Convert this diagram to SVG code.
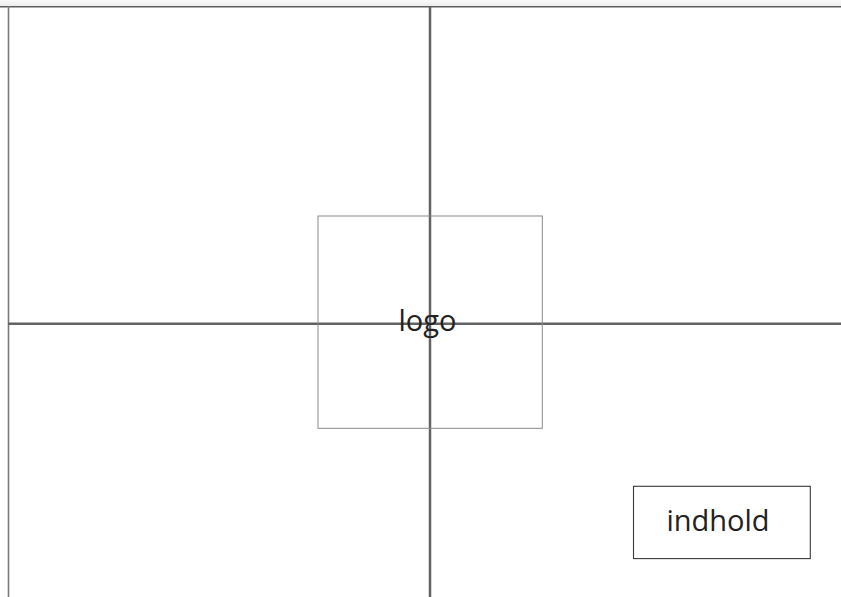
<svg xmlns="http://www.w3.org/2000/svg" width="841" height="597" viewBox="0 0 841 597">
<style>
.label{font-family:"Open Sans","Noto Sans","Liberation Sans",sans-serif;font-size:29px;fill:#222;text-anchor:middle}
.axis{stroke:#636363;stroke-width:2.5;fill:none}
</style>
<defs>
<linearGradient id="topbar" x1="0" y1="0" x2="0" y2="1">
<stop offset="0" stop-color="#fafafa"/>
<stop offset="1" stop-color="#ececec"/>
</linearGradient>
</defs>
<rect x="0" y="0" width="841" height="597" fill="#ffffff"/>
<rect x="0" y="0" width="841" height="6.3" fill="url(#topbar)"/>
<g id="frame">
<line x1="0" y1="6.8" x2="841" y2="6.8" stroke="#5e5e5e" stroke-width="1.5"/>
<line x1="8.5" y1="6" x2="8.5" y2="597" stroke="#7a7a7a" stroke-width="1.6"/>
</g>
<g id="connectors">
<line class="axis" x1="430" y1="7" x2="430" y2="597"/>
<line class="axis" x1="8" y1="323.8" x2="841" y2="323.8"/>
</g>
<g id="logo">
<rect x="318" y="216" width="224.3" height="212.3" fill="none" stroke="#8a8a8a" stroke-width="1"/>
<text class="label" x="427.5" y="330.5">logo</text>
</g>
<g id="indhold">
<rect x="633.5" y="486.3" width="176.8" height="72.3" fill="none" stroke="#3a3a3a" stroke-width="1.1"/>
<text class="label" x="718" y="530.5">indhold</text>
</g>
</svg>
